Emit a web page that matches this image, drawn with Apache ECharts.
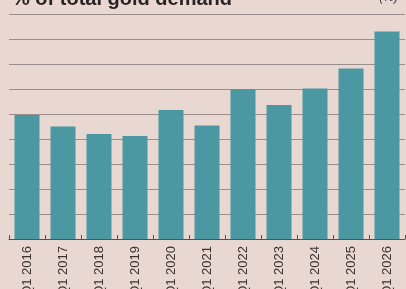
<!DOCTYPE html>
<html>
<head>
<meta charset="utf-8">
<script src="https://cdn.jsdelivr.net/npm/echarts@6/dist/echarts.min.js"></script>
<style>
  html, body { margin: 0; padding: 0; background: #e9d8d2; }
  #chart { width: 406px; height: 289px; }
</style>
</head>
<body>
<div id="chart"></div>
<script>
// Q1 share of total gold demand (%)
const quarters = ['Q1 2016', 'Q1 2017', 'Q1 2018', 'Q1 2019', 'Q1 2020', 'Q1 2021',
    'Q1 2022', 'Q1 2023', 'Q1 2024', 'Q1 2025', 'Q1 2026']
const shares = [24.8, 22.5, 21.0, 20.6, 25.8, 22.7, 30.0, 26.8, 30.1, 34.1, 41.5]

const chart = echarts.init(document.getElementById('chart'))

chart.setOption({
    backgroundColor: '#e9d8d2',
    animation: false,
    title: [{
        text: '% of total gold demand',
        left: 7,
        top: -16,
        textStyle: {
            fontFamily: 'Liberation Sans',
            fontWeight: 'bold',
            fontSize: 20,
            color: '#2b2424'
        }
    }, {
        text: '(%)',
        right: 3,
        top: -13,
        textStyle: {
            fontFamily: 'Liberation Sans',
            fontWeight: 'normal',
            fontStyle: 'italic',
            fontSize: 12,
            color: '#4a4242'
        }
    }],
    grid: {
        left: 9,
        right: 1,
        top: 14,
        bottom: 50,
        // labels run off the bottom edge like the cropped photo, keep grid fixed
        outerBoundsMode: 'none',
        containLabel: false
    },
    xAxis: {
        type: 'category',
        data: quarters,
        axisLine: {
            lineStyle: { color: '#5a5050', width: 1 }
        },
        axisTick: {
            show: true,
            inside: true,
            length: 4,
            lineStyle: { color: '#5a5050' }
        },
        axisLabel: {
            rotate: 90,
            margin: 7,
            fontFamily: 'Liberation Sans',
            fontSize: 13,
            color: '#3a3232'
        }
    },
    yAxis: {
        type: 'value',
        min: 0,
        max: 45,
        interval: 5,
        axisLabel: { show: false },
        axisLine: { show: false },
        axisTick: { show: false },
        splitLine: {
            lineStyle: { color: '#9a8d8c', width: 1 }
        }
    },
    series: [{
        type: 'bar',
        data: shares,
        barWidth: 25,
        itemStyle: { color: '#4b98a2' }
    }]
})
</script>
</body>
</html>
